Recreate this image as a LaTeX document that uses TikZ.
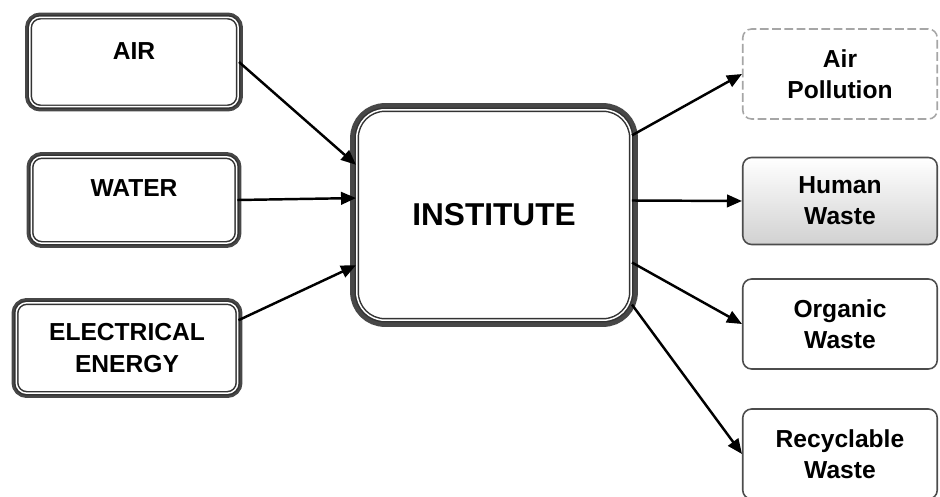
\documentclass[tikz,border=0pt]{standalone}
\usepackage{fontspec}
\setmainfont{Liberation Sans}
\usetikzlibrary{arrows.meta}
\tikzset{
  src/.style={draw=black!80, fill=white, line width=0.85pt, double=white, double distance=0.85pt,
    rounded corners=6pt, preaction={draw=black!72, line width=5.4pt},
    align=center, font=\bfseries\fontsize{14}{18}\selectfont},
  hub/.style={src, rounded corners=16pt, preaction={draw=black!72, line width=7.6pt},
    font=\bfseries\fontsize{18}{22}\selectfont},
  sink/.style={draw=black!70, fill=white, line width=0.9pt, rounded corners=5pt,
    minimum width=3.89cm, minimum height=1.8cm, align=center,
    font=\bfseries\fontsize{14}{17.6}\selectfont},
  faint/.style={sink, draw=black!35, dash pattern=on 5pt off 2pt},
  arr/.style={-{Triangle[length=3mm, width=2.5mm]}, line width=1.4pt}}

\begin{document}
\begin{tikzpicture}[x=0.02cm, y=-0.02cm]
  \useasboundingbox (0,0) rectangle (940,497);
  % inputs
  \node[src, minimum width=4.17cm, minimum height=1.79cm, text depth=0.44cm] (air) at (134,62) {AIR};
  \node[src, minimum width=4.11cm, minimum height=1.73cm, text depth=0.46cm] (water) at (134,200) {WATER};
  \node[src, minimum width=4.43cm, minimum height=1.81cm] (elec) at (127,348) {ELECTRICAL\\ENERGY};
  \node[hub, minimum width=5.49cm, minimum height=4.21cm] (inst) at (494,215) {INSTITUTE};
  % outputs
  \node[faint] (airpol) at (840,74) {Air\\Pollution};
  \node[sink, minimum height=1.74cm, top color=white, middle color=white, bottom color=black!18] (human) at (840,201) {Human\\Waste};
  \node[sink] (organic) at (840,324) {Organic\\Waste};
  \node[sink] (recycl) at (840,454) {Recyclable\\Waste};
  \draw[arr] (air.east) -- (inst.160);
  \draw[arr] (water.east) -- (inst.173);
  \draw[arr] (elec.14) -- (inst.200);
  \draw[arr] (inst.30) -- (airpol.west);
  \draw[arr] (inst.6) -- (human.west);
  \draw[arr] (inst.-19) -- (organic.west);
  \draw[arr] (inst.-33) -- (recycl.west);
\end{tikzpicture}
\end{document}
